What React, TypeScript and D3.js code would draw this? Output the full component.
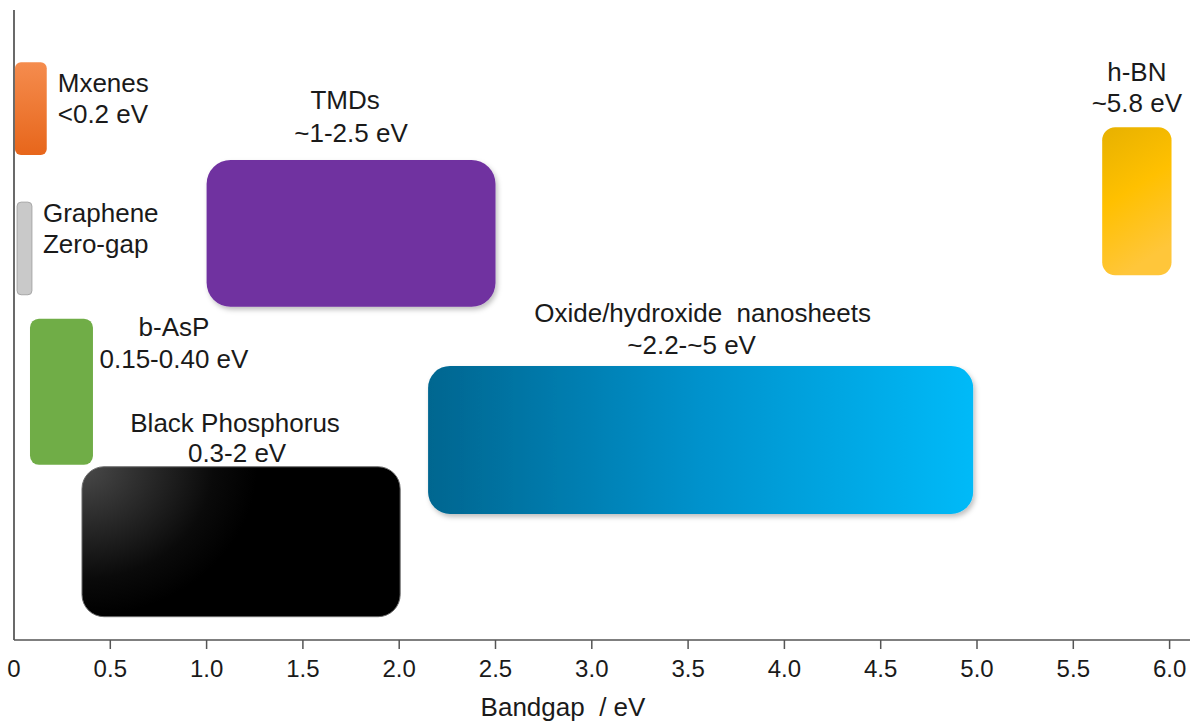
import React from "react";
import * as d3 from "d3";

// ---- data ----
const materials = ["Mxenes", "Graphene", "b-AsP", "Black Phosphorus", "TMDs", "Oxide/hydroxide  nanosheets", "h-BN"];
const rangeLabels = ["<0.2 eV", "Zero-gap", "0.15-0.40 eV", "0.3-2 eV", "~1-2.5 eV", "~2.2-~5 eV", "~5.8 eV"];
const gapLow = [0.005, 0.016, 0.083, 0.353, 1.0, 2.15, 5.65];
const gapHigh = [0.17, 0.093, 0.41, 2.005, 2.5, 4.98, 6.01];
// vertical placement (arbitrary row units, 0 = axis, 100 = top)
const rowTop = [91.7, 69.5, 51.0, 27.5, 76.2, 43.5, 81.4];
const rowBottom = [77.0, 54.8, 27.8, 3.7, 52.9, 20.0, 57.9];
const tickValues = [0, 0.5, 1.0, 1.5, 2.0, 2.5, 3.0, 3.5, 4.0, 4.5, 5.0, 5.5, 6.0];
const tickLabels = ["0", "0.5", "1.0", "1.5", "2.0", "2.5", "3.0", "3.5", "4.0", "4.5", "5.0", "5.5", "6.0"];
const xTitle = "Bandgap  / eV";

const W = 1198;
const H = 724;
const FONT = "'Liberation Sans', Arial, Helvetica, sans-serif";

export default function App() {
  const x = d3.scaleLinear().domain([0, 6]).range([14, 1169.6]);
  const y = d3.scaleLinear().domain([0, 100]).range([640, 10]);

  const fills = [
    "url(#gMx)",
    "#C9C9C9",
    "#70AD47",
    "url(#gBP)",
    "#7030A0",
    "url(#gOx)",
    "url(#gBN)",
  ];
  const strokes = ["none", "#A6A6A6", "none", "#6b6b6b", "none", "none", "none"];
  const radii = [6, 4, 9, 22, 24, 22, 13];
  const shadows = [false, false, false, false, true, true, false];

  const labelPos = (i: number) => {
    const x0 = x(gapLow[i]);
    const x1 = x(gapHigh[i]);
    const top = y(rowTop[i]);
    const cx = (x0 + x1) / 2;
    switch (i) {
      case 0:
        return { tx: x1 + 11, anchor: "start", b1: top + 30, b2: top + 61, cx2: x1 + 11 };
      case 1:
        return { tx: x1 + 11, anchor: "start", b1: top + 20, b2: top + 51, cx2: x1 + 11 };
      case 2:
        return { tx: x1 + 81, anchor: "middle", b1: top + 17, b2: top + 49, cx2: x1 + 81 };
      case 3:
        return { tx: cx - 6, anchor: "middle", b1: top - 35, b2: top - 5, cx2: cx - 4 };
      case 4:
        return { tx: cx - 6, anchor: "middle", b1: top - 51, b2: top - 18, cx2: cx };
      case 5:
        return { tx: cx + 2, anchor: "middle", b1: top - 44, b2: top - 12, cx2: cx - 9 };
      default:
        return { tx: cx, anchor: "middle", b1: top - 46, b2: top - 15, cx2: cx };
    }
  };

  return (
    <svg
      width={W}
      height={H}
      style={{ position: "absolute", left: 0, top: 0, background: "#fff" }}
      fontFamily={FONT}
    >
      <defs>
        <linearGradient id="gMx" x1="0" y1="0" x2="0" y2="1">
          <stop offset="0" stopColor="#F58C4E" />
          <stop offset="1" stopColor="#E7661B" />
        </linearGradient>
        <radialGradient id="gBP" cx="0" cy="0" r="1" fx="0" fy="0" gradientUnits="objectBoundingBox"
          gradientTransform="scale(0.55,1)">
          <stop offset="0" stopColor="#4a4a4a" />
          <stop offset="0.75" stopColor="#0a0a0a" />
          <stop offset="1" stopColor="#000" />
        </radialGradient>
        <linearGradient id="gOx" x1="0" y1="0" x2="1" y2="0">
          <stop offset="0" stopColor="#006690" />
          <stop offset="0.5" stopColor="#0092CC" />
          <stop offset="1" stopColor="#00BAF8" />
        </linearGradient>
        <linearGradient id="gBN" x1="0" y1="0" x2="0.3" y2="1">
          <stop offset="0" stopColor="#E7B100" />
          <stop offset="0.5" stopColor="#FFC000" />
          <stop offset="1" stopColor="#FFC63A" />
        </linearGradient>
        <filter id="shadow" x="-5%" y="-5%" width="112%" height="115%">
          <feDropShadow dx="2" dy="3" stdDeviation="2.5" floodColor="#000" floodOpacity="0.25" />
        </filter>
      </defs>

      {/* axes */}
      <line x1={x(0)} x2={x(0)} y1={y(100)} y2={y(0)} stroke="#444" strokeWidth={1.6} />
      <line x1={x(0)} x2={1190} y1={y(0)} y2={y(0)} stroke="#555" strokeWidth={1.6} />
      {tickValues.map((v, i) => (
        <g key={"t" + i}>
          {v > 0 && (
            <line x1={x(v)} x2={x(v)} y1={y(0)} y2={y(0) + 9} stroke="#555" strokeWidth={1.5} />
          )}
          <text x={x(v)} y={677} textAnchor="middle" fontSize={24} fill="#1a1a1a">
            {tickLabels[i]}
          </text>
        </g>
      ))}
      <text x={563} y={716} textAnchor="middle" fontSize={26} fill="#1a1a1a" style={{ whiteSpace: "pre" }}>
        {xTitle}
      </text>

      {/* boxes */}
      {materials.map((m, i) => {
        const x0 = x(gapLow[i]);
        const x1 = x(gapHigh[i]);
        const yt = y(rowTop[i]);
        const yb = y(rowBottom[i]);
        return (
          <rect
            key={"b" + i}
            x={x0}
            y={yt}
            width={x1 - x0}
            height={yb - yt}
            rx={radii[i]}
            ry={radii[i]}
            fill={fills[i]}
            stroke={strokes[i]}
            strokeWidth={strokes[i] === "none" ? 0 : 1}
            filter={shadows[i] ? "url(#shadow)" : undefined}
          />
        );
      })}

      {/* labels */}
      {materials.map((m, i) => {
        const p = labelPos(i);
        return (
          <g key={"l" + i} fontSize={26} fill="#1a1a1a">
            <text x={p.tx} y={p.b1} textAnchor={p.anchor} style={{ whiteSpace: "pre" }}>
              {m}
            </text>
            <text x={p.cx2} y={p.b2} textAnchor={p.anchor}>
              {rangeLabels[i]}
            </text>
          </g>
        );
      })}
    </svg>
  );
}
